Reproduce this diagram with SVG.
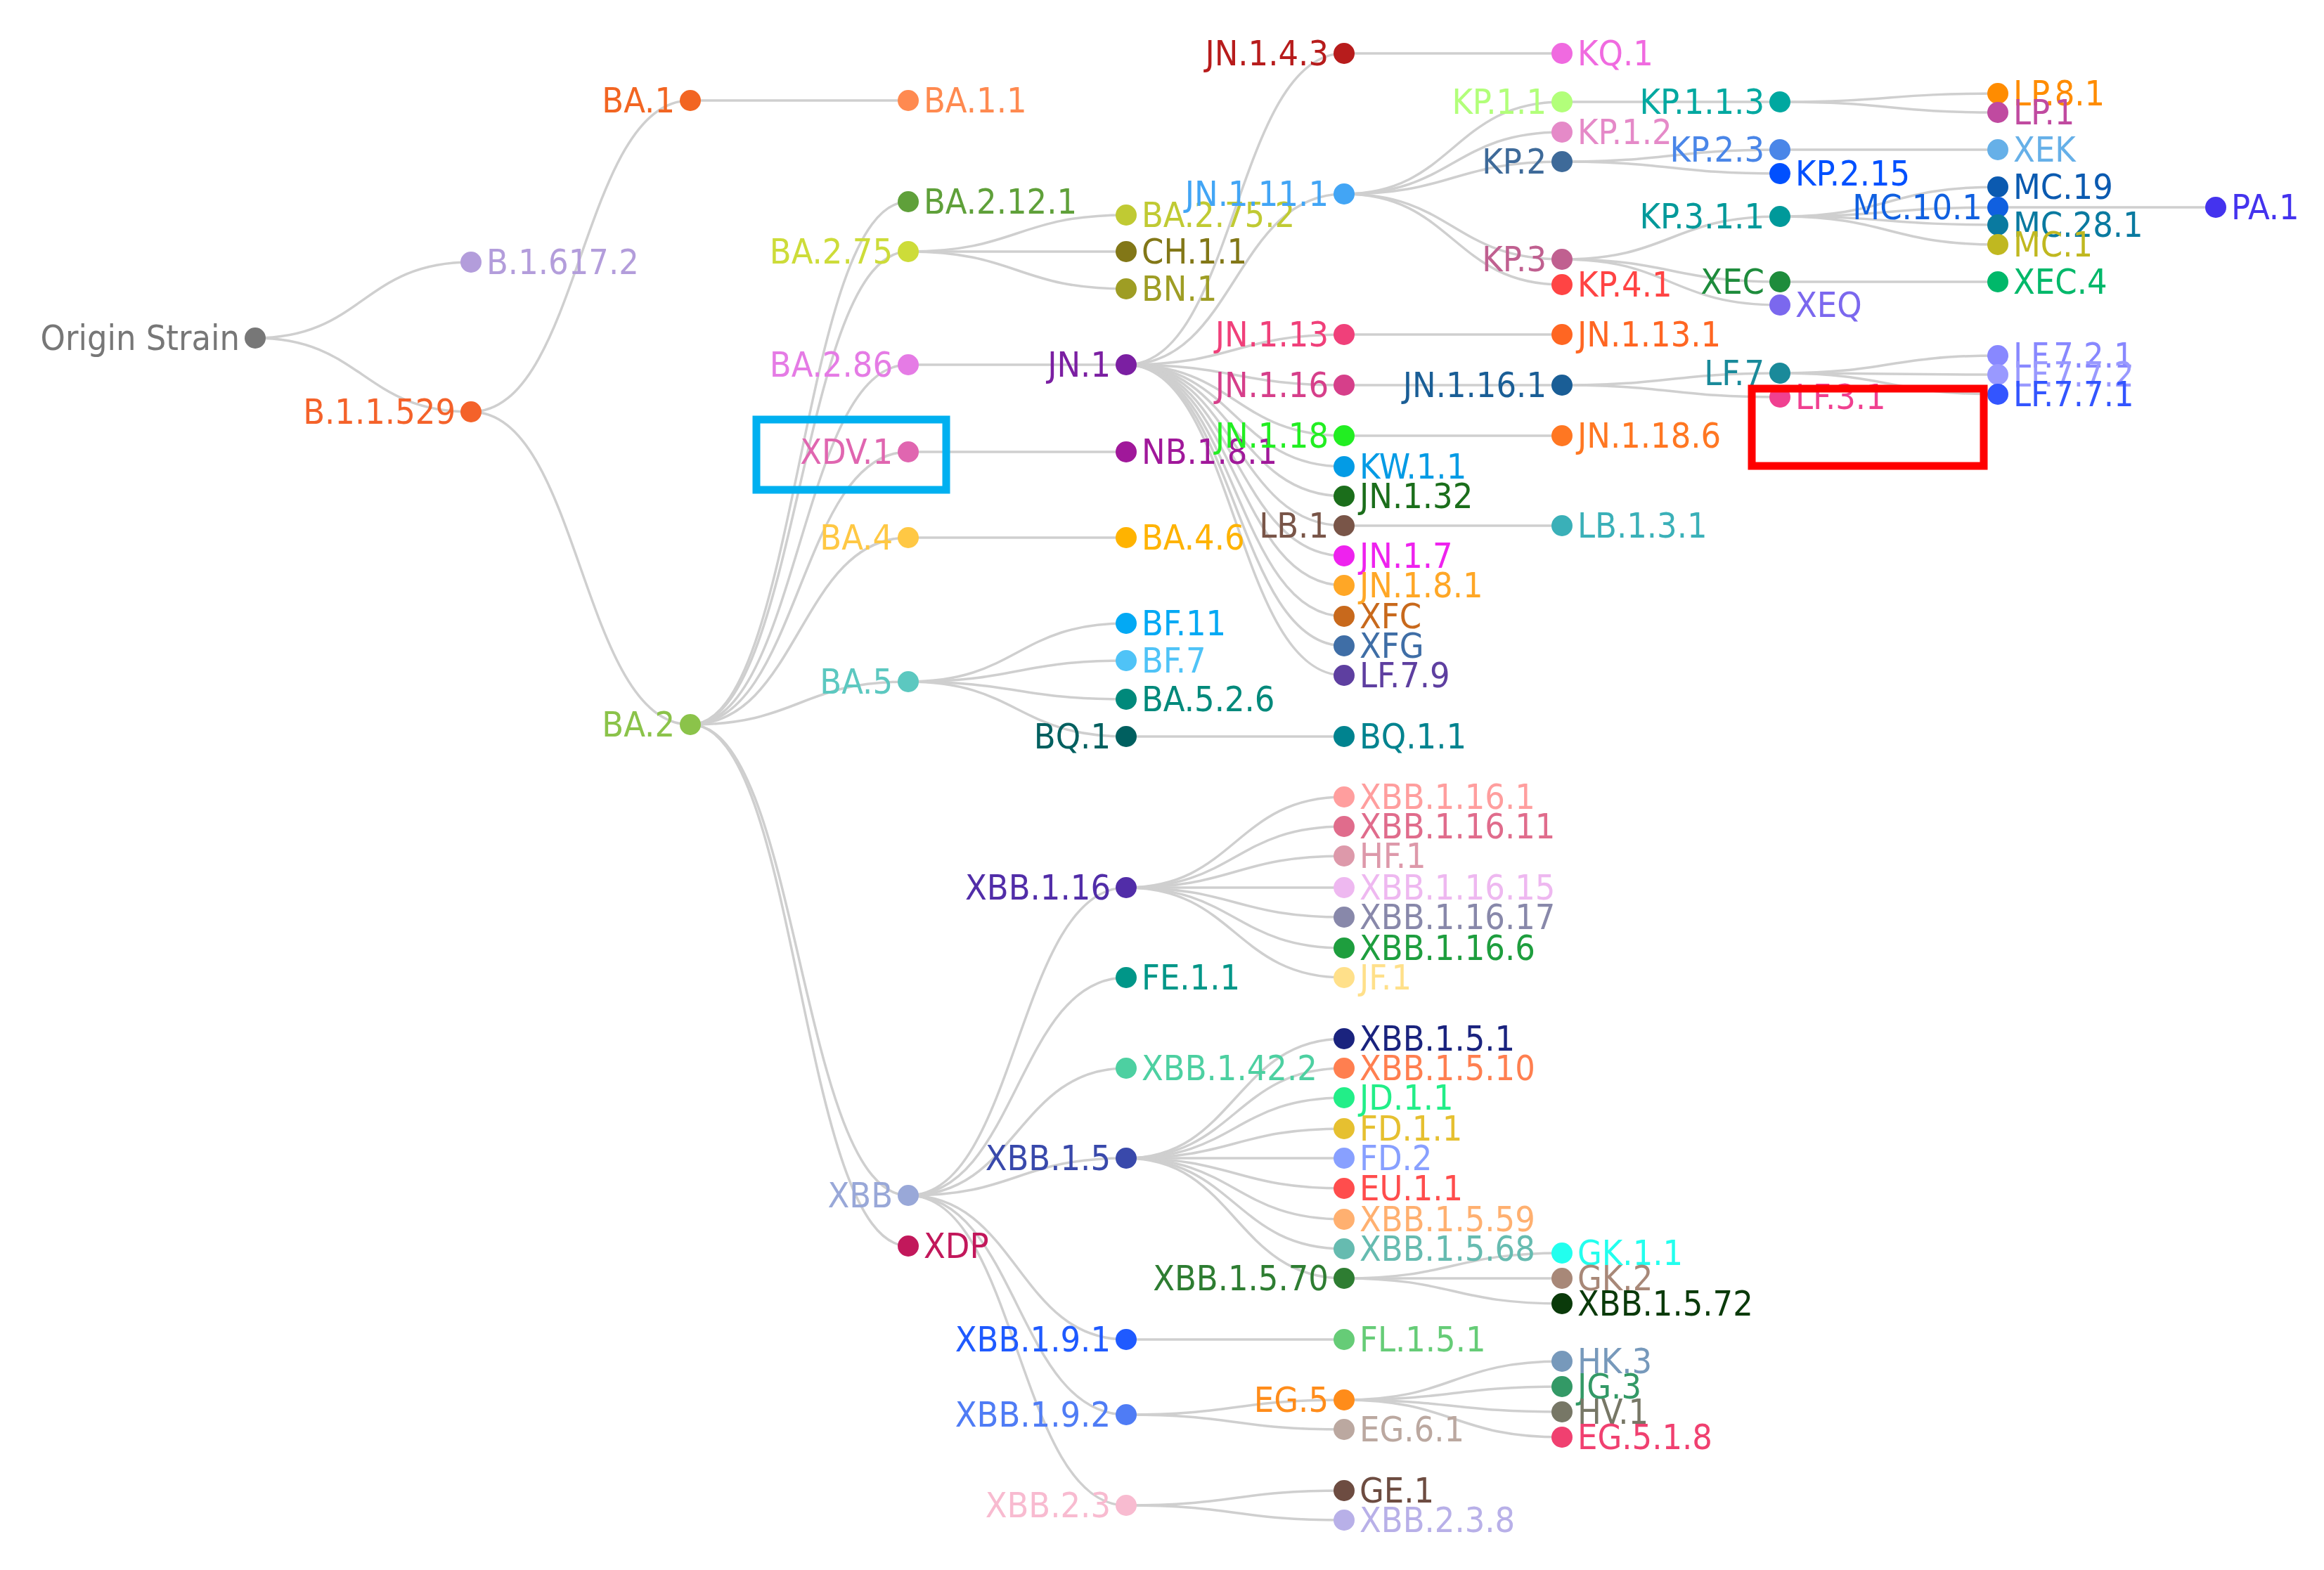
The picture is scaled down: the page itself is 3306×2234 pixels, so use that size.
<svg xmlns="http://www.w3.org/2000/svg" width="3306" height="2234" viewBox="0 0 3306 2234">
<style>
text{font-family:"DejaVu Sans Condensed","DejaVu Sans",sans-serif;font-size:50px}
.l{text-anchor:end}
.e path{fill:none;stroke:#cfcfcf;stroke-width:3.5}
</style>
<rect width="3306" height="2234" fill="#fff"/>
<g class="e" id="edges">
<path d="M363 481C516 481 516 373 670 373"/><path d="M363 481C516 481 516 586 670 586"/>
<path d="M670 586C826 586 826 143 982 143"/><path d="M670 586C826 586 826 1031 982 1031"/>
<path d="M982 143H1292"/>
<path d="M982 1031C1137 1031 1137 287 1292 287"/><path d="M982 1031C1137 1031 1137 358 1292 358"/><path d="M982 1031C1137 1031 1137 519 1292 519"/><path d="M982 1031C1137 1031 1137 643 1292 643"/><path d="M982 1031C1137 1031 1137 765 1292 765"/><path d="M982 1031C1137 1031 1137 970 1292 970"/><path d="M982 1031C1137 1031 1137 1701 1292 1701"/><path d="M982 1031C1137 1031 1137 1773 1292 1773"/>
<path d="M1292 358C1447 358 1447 306 1602 306"/><path d="M1292 358H1602"/><path d="M1292 358C1447 358 1447 411 1602 411"/>
<path d="M1292 519H1602"/><path d="M1292 643H1602"/><path d="M1292 765H1602"/>
<path d="M1292 970C1447 970 1447 887 1602 887"/><path d="M1292 970C1447 970 1447 940 1602 940"/><path d="M1292 970C1447 970 1447 995 1602 995"/><path d="M1292 970C1447 970 1447 1048 1602 1048"/>
<path d="M1292 1701C1447 1701 1447 1263 1602 1263"/><path d="M1292 1701C1447 1701 1447 1391 1602 1391"/><path d="M1292 1701C1447 1701 1447 1520 1602 1520"/><path d="M1292 1701C1447 1701 1447 1648 1602 1648"/><path d="M1292 1701C1447 1701 1447 1906 1602 1906"/><path d="M1292 1701C1447 1701 1447 2013 1602 2013"/><path d="M1292 1701C1447 1701 1447 2142 1602 2142"/>
<path d="M1602 519C1757 519 1757 76 1912 76"/><path d="M1602 519C1757 519 1757 276 1912 276"/><path d="M1602 519C1757 519 1757 476 1912 476"/><path d="M1602 519C1757 519 1757 548 1912 548"/><path d="M1602 519C1757 519 1757 620 1912 620"/><path d="M1602 519C1757 519 1757 664 1912 664"/><path d="M1602 519C1757 519 1757 706 1912 706"/><path d="M1602 519C1757 519 1757 748 1912 748"/><path d="M1602 519C1757 519 1757 791 1912 791"/><path d="M1602 519C1757 519 1757 833 1912 833"/><path d="M1602 519C1757 519 1757 877 1912 877"/><path d="M1602 519C1757 519 1757 919 1912 919"/><path d="M1602 519C1757 519 1757 961 1912 961"/>
<path d="M1602 1048H1912"/>
<path d="M1602 1263C1757 1263 1757 1134 1912 1134"/><path d="M1602 1263C1757 1263 1757 1176 1912 1176"/><path d="M1602 1263C1757 1263 1757 1218 1912 1218"/><path d="M1602 1263H1912"/><path d="M1602 1263C1757 1263 1757 1305 1912 1305"/><path d="M1602 1263C1757 1263 1757 1349 1912 1349"/><path d="M1602 1263C1757 1263 1757 1391 1912 1391"/>
<path d="M1602 1648C1757 1648 1757 1478 1912 1478"/><path d="M1602 1648C1757 1648 1757 1520 1912 1520"/><path d="M1602 1648C1757 1648 1757 1562 1912 1562"/><path d="M1602 1648C1757 1648 1757 1606 1912 1606"/><path d="M1602 1648H1912"/><path d="M1602 1648C1757 1648 1757 1691 1912 1691"/><path d="M1602 1648C1757 1648 1757 1735 1912 1735"/><path d="M1602 1648C1757 1648 1757 1777 1912 1777"/><path d="M1602 1648C1757 1648 1757 1819 1912 1819"/>
<path d="M1602 1906H1912"/>
<path d="M1602 2013C1757 2013 1757 1992 1912 1992"/><path d="M1602 2013C1757 2013 1757 2034 1912 2034"/>
<path d="M1602 2142C1757 2142 1757 2121 1912 2121"/><path d="M1602 2142C1757 2142 1757 2163 1912 2163"/>
<path d="M1912 76H2222"/>
<path d="M1912 276C2067 276 2067 145 2222 145"/><path d="M1912 276C2067 276 2067 188 2222 188"/><path d="M1912 276C2067 276 2067 230 2222 230"/><path d="M1912 276C2067 276 2067 369 2222 369"/><path d="M1912 276C2067 276 2067 405 2222 405"/>
<path d="M1912 476H2222"/><path d="M1912 548H2222"/><path d="M1912 620H2222"/><path d="M1912 748H2222"/>
<path d="M1912 1819C2067 1819 2067 1783 2222 1783"/><path d="M1912 1819H2222"/><path d="M1912 1819C2067 1819 2067 1855 2222 1855"/>
<path d="M1912 1992C2067 1992 2067 1937 2222 1937"/><path d="M1912 1992C2067 1992 2067 1973 2222 1973"/><path d="M1912 1992C2067 1992 2067 2009 2222 2009"/><path d="M1912 1992C2067 1992 2067 2045 2222 2045"/>
<path d="M2222 145H2532"/>
<path d="M2222 230C2377 230 2377 213 2532 213"/><path d="M2222 230C2377 230 2377 247 2532 247"/>
<path d="M2222 369C2377 369 2377 308 2532 308"/><path d="M2222 369C2377 369 2377 401 2532 401"/><path d="M2222 369C2377 369 2377 434 2532 434"/>
<path d="M2222 548C2377 548 2377 531 2532 531"/><path d="M2222 548C2377 548 2377 565 2532 565"/>
<path d="M2532 145C2687 145 2687 133 2842 133"/><path d="M2532 145C2687 145 2687 160 2842 160"/>
<path d="M2532 213H2842"/>
<path d="M2532 308C2687 308 2687 266 2842 266"/><path d="M2532 308C2687 308 2687 295 2842 295"/><path d="M2532 308C2687 308 2687 320 2842 320"/><path d="M2532 308C2687 308 2687 348 2842 348"/>
<path d="M2532 401H2842"/>
<path d="M2532 531C2687 531 2687 506 2842 506"/><path d="M2532 531C2687 531 2687 533 2842 533"/><path d="M2532 531C2687 531 2687 561 2842 561"/>
<path d="M2842 295H3152"/>
</g>
<g id="n-origin" fill="#777"><circle cx="363" cy="481" r="15"/><text class="l" x="341" y="498">Origin Strain</text></g>
<g id="n-b16172" fill="#b39ddb"><circle cx="670" cy="373" r="15"/><text x="692" y="390">B.1.617.2</text></g>
<g id="n-b11529" fill="#f4622a"><circle cx="670" cy="586" r="15"/><text class="l" x="648" y="603">B.1.1.529</text></g>
<g id="n-ba1" fill="#f26522"><circle cx="982" cy="143" r="15"/><text class="l" x="960" y="160">BA.1</text></g>
<g id="n-ba2" fill="#8bc34a"><circle cx="982" cy="1031" r="15"/><text class="l" x="960" y="1048">BA.2</text></g>
<g id="n-ba11" fill="#ff8a50"><circle cx="1292" cy="143" r="15"/><text x="1314" y="160">BA.1.1</text></g>
<g id="n-ba2121" fill="#5fa03a"><circle cx="1292" cy="287" r="15"/><text x="1314" y="304">BA.2.12.1</text></g>
<g id="n-ba275" fill="#cddc39"><circle cx="1292" cy="358" r="15"/><text class="l" x="1270" y="375">BA.2.75</text></g>
<g id="n-ba286" fill="#e57be5"><circle cx="1292" cy="519" r="15"/><text class="l" x="1270" y="536">BA.2.86</text></g>
<g id="n-xdv1" fill="#e066b0"><circle cx="1292" cy="643" r="15"/><text class="l" x="1270" y="660">XDV.1</text></g>
<g id="n-ba4" fill="#ffc844"><circle cx="1292" cy="765" r="15"/><text class="l" x="1270" y="782">BA.4</text></g>
<g id="n-ba5" fill="#5cc8c0"><circle cx="1292" cy="970" r="15"/><text class="l" x="1270" y="987">BA.5</text></g>
<g id="n-xbb" fill="#99a8d8"><circle cx="1292" cy="1701" r="15"/><text class="l" x="1270" y="1718">XBB</text></g>
<g id="n-xdp" fill="#c2185b"><circle cx="1292" cy="1773" r="15"/><text x="1314" y="1790">XDP</text></g>
<g id="n-ba2752" fill="#c0ca33"><circle cx="1602" cy="306" r="15"/><text x="1624" y="323">BA.2.75.2</text></g>
<g id="n-ch11" fill="#827717"><circle cx="1602" cy="358" r="15"/><text x="1624" y="375">CH.1.1</text></g>
<g id="n-bn1" fill="#9e9d24"><circle cx="1602" cy="411" r="15"/><text x="1624" y="428">BN.1</text></g>
<g id="n-jn1" fill="#7b1fa2"><circle cx="1602" cy="519" r="15"/><text class="l" x="1580" y="536">JN.1</text></g>
<g id="n-nb181" fill="#a0189a"><circle cx="1602" cy="643" r="15"/><text x="1624" y="660">NB.1.8.1</text></g>
<g id="n-ba46" fill="#ffb300"><circle cx="1602" cy="765" r="15"/><text x="1624" y="782">BA.4.6</text></g>
<g id="n-bf11" fill="#03a9f4"><circle cx="1602" cy="887" r="15"/><text x="1624" y="904">BF.11</text></g>
<g id="n-bf7" fill="#4fc3f7"><circle cx="1602" cy="940" r="15"/><text x="1624" y="957">BF.7</text></g>
<g id="n-ba526" fill="#00897b"><circle cx="1602" cy="995" r="15"/><text x="1624" y="1012">BA.5.2.6</text></g>
<g id="n-bq1" fill="#005f5f"><circle cx="1602" cy="1048" r="15"/><text class="l" x="1580" y="1065">BQ.1</text></g>
<g id="n-xbb116" fill="#512da8"><circle cx="1602" cy="1263" r="15"/><text class="l" x="1580" y="1280">XBB.1.16</text></g>
<g id="n-fe11" fill="#009688"><circle cx="1602" cy="1391" r="15"/><text x="1624" y="1408">FE.1.1</text></g>
<g id="n-xbb1422" fill="#4dd0a1"><circle cx="1602" cy="1520" r="15"/><text x="1624" y="1537">XBB.1.42.2</text></g>
<g id="n-xbb15" fill="#3949ab"><circle cx="1602" cy="1648" r="15"/><text class="l" x="1580" y="1665">XBB.1.5</text></g>
<g id="n-xbb191" fill="#1f5aff"><circle cx="1602" cy="1906" r="15"/><text class="l" x="1580" y="1923">XBB.1.9.1</text></g>
<g id="n-xbb192" fill="#4f7cf5"><circle cx="1602" cy="2013" r="15"/><text class="l" x="1580" y="2030">XBB.1.9.2</text></g>
<g id="n-xbb23" fill="#f8bbd0"><circle cx="1602" cy="2142" r="15"/><text class="l" x="1580" y="2159">XBB.2.3</text></g>
<g id="n-jn143" fill="#b71c1c"><circle cx="1912" cy="76" r="15"/><text class="l" x="1890" y="93">JN.1.4.3</text></g>
<g id="n-jn1111" fill="#42a5f5"><circle cx="1912" cy="276" r="15"/><text class="l" x="1890" y="293">JN.1.11.1</text></g>
<g id="n-jn113" fill="#f0407a"><circle cx="1912" cy="476" r="15"/><text class="l" x="1890" y="493">JN.1.13</text></g>
<g id="n-jn116" fill="#d63f8a"><circle cx="1912" cy="548" r="15"/><text class="l" x="1890" y="565">JN.1.16</text></g>
<g id="n-jn118" fill="#22ee22"><circle cx="1912" cy="620" r="15"/><text class="l" x="1890" y="637">JN.1.18</text></g>
<g id="n-kw11" fill="#039be5"><circle cx="1912" cy="664" r="15"/><text x="1934" y="681">KW.1.1</text></g>
<g id="n-jn132" fill="#1b6e1b"><circle cx="1912" cy="706" r="15"/><text x="1934" y="723">JN.1.32</text></g>
<g id="n-lb1" fill="#795548"><circle cx="1912" cy="748" r="15"/><text class="l" x="1890" y="765">LB.1</text></g>
<g id="n-jn17" fill="#ee22ee"><circle cx="1912" cy="791" r="15"/><text x="1934" y="808">JN.1.7</text></g>
<g id="n-jn181" fill="#ffa726"><circle cx="1912" cy="833" r="15"/><text x="1934" y="850">JN.1.8.1</text></g>
<g id="n-xfc" fill="#c8691c"><circle cx="1912" cy="877" r="15"/><text x="1934" y="894">XFC</text></g>
<g id="n-xfg" fill="#3f6ea6"><circle cx="1912" cy="919" r="15"/><text x="1934" y="936">XFG</text></g>
<g id="n-lf79" fill="#5e3fa0"><circle cx="1912" cy="961" r="15"/><text x="1934" y="978">LF.7.9</text></g>
<g id="n-bq11" fill="#00838f"><circle cx="1912" cy="1048" r="15"/><text x="1934" y="1065">BQ.1.1</text></g>
<g id="n-xbb1161" fill="#ff9e9e"><circle cx="1912" cy="1134" r="15"/><text x="1934" y="1151">XBB.1.16.1</text></g>
<g id="n-xbb11611" fill="#e06c8c"><circle cx="1912" cy="1176" r="15"/><text x="1934" y="1193">XBB.1.16.11</text></g>
<g id="n-hf1" fill="#dd99aa"><circle cx="1912" cy="1218" r="15"/><text x="1934" y="1235">HF.1</text></g>
<g id="n-xbb11615" fill="#eeb8f0"><circle cx="1912" cy="1263" r="15"/><text x="1934" y="1280">XBB.1.16.15</text></g>
<g id="n-xbb11617" fill="#8888aa"><circle cx="1912" cy="1305" r="15"/><text x="1934" y="1322">XBB.1.16.17</text></g>
<g id="n-xbb1166" fill="#1e9e3e"><circle cx="1912" cy="1349" r="15"/><text x="1934" y="1366">XBB.1.16.6</text></g>
<g id="n-jf1" fill="#ffe08a"><circle cx="1912" cy="1391" r="15"/><text x="1934" y="1408">JF.1</text></g>
<g id="n-xbb151" fill="#1a237e"><circle cx="1912" cy="1478" r="15"/><text x="1934" y="1495">XBB.1.5.1</text></g>
<g id="n-xbb1510" fill="#ff7f50"><circle cx="1912" cy="1520" r="15"/><text x="1934" y="1537">XBB.1.5.10</text></g>
<g id="n-jd11" fill="#22ee88"><circle cx="1912" cy="1562" r="15"/><text x="1934" y="1579">JD.1.1</text></g>
<g id="n-fd11" fill="#e6c030"><circle cx="1912" cy="1606" r="15"/><text x="1934" y="1623">FD.1.1</text></g>
<g id="n-fd2" fill="#88a0ff"><circle cx="1912" cy="1648" r="15"/><text x="1934" y="1665">FD.2</text></g>
<g id="n-eu11" fill="#ff4d4d"><circle cx="1912" cy="1691" r="15"/><text x="1934" y="1708">EU.1.1</text></g>
<g id="n-xbb1559" fill="#ffb070"><circle cx="1912" cy="1735" r="15"/><text x="1934" y="1752">XBB.1.5.59</text></g>
<g id="n-xbb1568" fill="#66bbb0"><circle cx="1912" cy="1777" r="15"/><text x="1934" y="1794">XBB.1.5.68</text></g>
<g id="n-xbb1570" fill="#2e7d32"><circle cx="1912" cy="1819" r="15"/><text class="l" x="1890" y="1836">XBB.1.5.70</text></g>
<g id="n-fl151" fill="#66cc77"><circle cx="1912" cy="1906" r="15"/><text x="1934" y="1923">FL.1.5.1</text></g>
<g id="n-eg5" fill="#ff8c1a"><circle cx="1912" cy="1992" r="15"/><text class="l" x="1890" y="2009">EG.5</text></g>
<g id="n-eg61" fill="#bba8a0"><circle cx="1912" cy="2034" r="15"/><text x="1934" y="2051">EG.6.1</text></g>
<g id="n-ge1" fill="#6d4c41"><circle cx="1912" cy="2121" r="15"/><text x="1934" y="2138">GE.1</text></g>
<g id="n-xbb238" fill="#b8b0e8"><circle cx="1912" cy="2163" r="15"/><text x="1934" y="2180">XBB.2.3.8</text></g>
<g id="n-kq1" fill="#f06ae0"><circle cx="2222" cy="76" r="15"/><text x="2244" y="93">KQ.1</text></g>
<g id="n-kp11" fill="#b2ff7a"><circle cx="2222" cy="145" r="15"/><text class="l" x="2200" y="162">KP.1.1</text></g>
<g id="n-kp12" fill="#e58ac8"><circle cx="2222" cy="188" r="15"/><text x="2244" y="205">KP.1.2</text></g>
<g id="n-kp2" fill="#3e6a99"><circle cx="2222" cy="230" r="15"/><text class="l" x="2200" y="247">KP.2</text></g>
<g id="n-kp3" fill="#c06090"><circle cx="2222" cy="369" r="15"/><text class="l" x="2200" y="386">KP.3</text></g>
<g id="n-kp41" fill="#ff4444"><circle cx="2222" cy="405" r="15"/><text x="2244" y="422">KP.4.1</text></g>
<g id="n-jn1131" fill="#ff6622"><circle cx="2222" cy="476" r="15"/><text x="2244" y="493">JN.1.13.1</text></g>
<g id="n-jn1161" fill="#1a5e96"><circle cx="2222" cy="548" r="15"/><text class="l" x="2200" y="565">JN.1.16.1</text></g>
<g id="n-jn1186" fill="#ff7722"><circle cx="2222" cy="620" r="15"/><text x="2244" y="637">JN.1.18.6</text></g>
<g id="n-lb131" fill="#3ab0b8"><circle cx="2222" cy="748" r="15"/><text x="2244" y="765">LB.1.3.1</text></g>
<g id="n-gk11" fill="#22ffee"><circle cx="2222" cy="1783" r="15"/><text x="2244" y="1800">GK.1.1</text></g>
<g id="n-gk2" fill="#a88878"><circle cx="2222" cy="1819" r="15"/><text x="2244" y="1836">GK.2</text></g>
<g id="n-xbb1572" fill="#0a3a0a"><circle cx="2222" cy="1855" r="15"/><text x="2244" y="1872">XBB.1.5.72</text></g>
<g id="n-hk3" fill="#7799bb"><circle cx="2222" cy="1937" r="15"/><text x="2244" y="1954">HK.3</text></g>
<g id="n-jg3" fill="#339966"><circle cx="2222" cy="1973" r="15"/><text x="2244" y="1990">JG.3</text></g>
<g id="n-hv1" fill="#777766"><circle cx="2222" cy="2009" r="15"/><text x="2244" y="2026">HV.1</text></g>
<g id="n-eg518" fill="#f04070"><circle cx="2222" cy="2045" r="15"/><text x="2244" y="2062">EG.5.1.8</text></g>
<g id="n-kp113" fill="#00a8a0"><circle cx="2532" cy="145" r="15"/><text class="l" x="2510" y="162">KP.1.1.3</text></g>
<g id="n-kp23" fill="#4a86e8"><circle cx="2532" cy="213" r="15"/><text class="l" x="2510" y="230">KP.2.3</text></g>
<g id="n-kp215" fill="#0050ff"><circle cx="2532" cy="247" r="15"/><text x="2554" y="264">KP.2.15</text></g>
<g id="n-kp311" fill="#00999a"><circle cx="2532" cy="308" r="15"/><text class="l" x="2510" y="325">KP.3.1.1</text></g>
<g id="n-xec" fill="#1e8c3c"><circle cx="2532" cy="401" r="15"/><text class="l" x="2510" y="418">XEC</text></g>
<g id="n-xeq" fill="#7b68ee"><circle cx="2532" cy="434" r="15"/><text x="2554" y="451">XEQ</text></g>
<g id="n-lf7" fill="#1a8a9a"><circle cx="2532" cy="531" r="15"/><text class="l" x="2510" y="548">LF.7</text></g>
<g id="n-lf31" fill="#f04090"><circle cx="2532" cy="565" r="15"/><text x="2554" y="582">LF.3.1</text></g>
<g id="n-lp81" fill="#ff8c00"><circle cx="2842" cy="133" r="15"/><text x="2864" y="150">LP.8.1</text></g>
<g id="n-lp1" fill="#c04aa0"><circle cx="2842" cy="160" r="15"/><text x="2864" y="177">LP.1</text></g>
<g id="n-xek" fill="#66b0e8"><circle cx="2842" cy="213" r="15"/><text x="2864" y="230">XEK</text></g>
<g id="n-mc19" fill="#0b5ab0"><circle cx="2842" cy="266" r="15"/><text x="2864" y="283">MC.19</text></g>
<g id="n-mc101" fill="#1060e0"><circle cx="2842" cy="295" r="15"/><text class="l" x="2820" y="312">MC.10.1</text></g>
<g id="n-mc281" fill="#0a7aa0"><circle cx="2842" cy="320" r="15"/><text x="2864" y="337">MC.28.1</text></g>
<g id="n-mc1" fill="#c0b820"><circle cx="2842" cy="348" r="15"/><text x="2864" y="365">MC.1</text></g>
<g id="n-xec4" fill="#00b86a"><circle cx="2842" cy="401" r="15"/><text x="2864" y="418">XEC.4</text></g>
<g id="n-lf721" fill="#8888ff"><circle cx="2842" cy="506" r="15"/><text x="2864" y="523">LF.7.2.1</text></g>
<g id="n-lf772" fill="#9999ff"><circle cx="2842" cy="533" r="15"/><text x="2864" y="550">LF.7.7.2</text></g>
<g id="n-lf771" fill="#3355ff"><circle cx="2842" cy="561" r="15"/><text x="2864" y="578">LF.7.7.1</text></g>
<g id="n-pa1" fill="#4433ee"><circle cx="3152" cy="295" r="15"/><text x="3174" y="312">PA.1</text></g>
<rect x="1076" y="597" width="270" height="100" fill="none" stroke="#00b0f0" stroke-width="11"/>
<rect x="2492" y="553" width="330" height="110" fill="none" stroke="#ff0000" stroke-width="11"/>
</svg>
